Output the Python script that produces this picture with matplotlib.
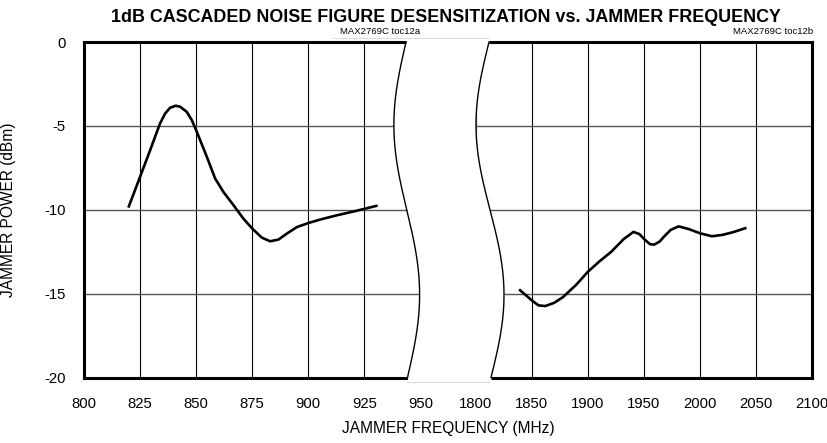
import numpy as np
import matplotlib
matplotlib.use("Agg")
import matplotlib.pyplot as plt

plt.rcParams['font.family'] = ['Liberation Sans', 'DejaVu Sans']
plt.rcParams['axes.unicode_minus'] = False

# left band (800-950 MHz)
freq_lo = [820, 825, 829.5, 833.9, 836.2, 838.4, 840.9, 842.9, 845.8, 848.1, 850.3, 854.8,
           858.5, 862.2, 866.7, 871.1, 875.1, 879.3, 883, 886.7, 890.5, 895, 900.1, 906,
           912.8, 921, 930.4]
power_lo = [-9.8, -8.04, -6.45, -4.86, -4.26, -3.92, -3.8, -3.86, -4.16, -4.66, -5.35, -6.85,
            -8.14, -8.94, -9.73, -10.53, -11.13, -11.66, -11.88, -11.78, -11.42, -11.03, -10.79, -10.56,
            -10.33, -10.08, -9.77]

# right band (1800-2100 MHz)
freq_hi = [1839.6, 1850, 1856, 1862, 1870, 1878, 1890, 1900, 1910, 1921, 1932, 1940.7,
           1946, 1951, 1955.5, 1959.2, 1964, 1968, 1974, 1981, 1990, 2000, 2010.7, 2020, 2030, 2040.4]
power_hi = [-14.8, -15.4, -15.7, -15.74, -15.55, -15.2, -14.45, -13.7, -13.1, -12.5, -11.75, -11.32,
            -11.45, -11.8, -12.05, -12.08, -11.9, -11.6, -11.2, -10.99, -11.15, -11.4, -11.58, -11.5, -11.33, -11.1]

ticks_lo = [800, 825, 850, 875, 900, 925, 950]
ticks_hi = [1800, 1850, 1900, 1950, 2000, 2050, 2100]
yticks = [-20, -15, -10, -5, 0]

W, H = 827, 443
fig = plt.figure(figsize=(W / 100, H / 100), dpi=100)

top_px, bot_px = 42, 377.5
ax1 = fig.add_axes([84 / W, (H - bot_px) / H, (420.3 - 84) / W, (bot_px - top_px) / H])
ax2 = fig.add_axes([475.7 / W, (H - bot_px) / H, (812 - 475.7) / W, (bot_px - top_px) / H])

for ax, ticks in [(ax1, ticks_lo), (ax2, ticks_hi)]:
    ax.set_xlim(ticks[0], ticks[-1])
    ax.set_ylim(-20, 0)
    ax.set_xticks(ticks)
    ax.set_yticks(yticks)
    ax.tick_params(length=0, labelsize=10.7)
    ax.tick_params(axis='x', pad=14)
    ax.tick_params(axis='y', pad=13)
    ax.xaxis.grid(True, color='black', lw=0.8)
    ax.yaxis.grid(True, color='#555555', lw=1.0)
    ax.set_axisbelow(True)
    for s in ax.spines.values():
        s.set_linewidth(2.2)

ax1.spines['right'].set_visible(False)
ax2.spines['left'].set_visible(False)
ax2.tick_params(labelleft=False)

ax1.plot(freq_lo, power_lo, color='black', lw=1.9, solid_joinstyle='round')
ax2.plot(freq_hi, power_hi, color='black', lw=1.9, solid_joinstyle='round')

# broken-axis gap with wavy edges
ov = fig.add_axes([0, 0, 1, 1], zorder=10)
ov.set_xlim(0, W)
ov.set_ylim(H, 0)
ov.axis('off')
t = np.linspace(0, 1, 200)
yy = top_px + t * (bot_px - top_px)
xl = 406 - 12.5 * np.sin(2 * np.pi * t) + t * 1.5
xr = 489 - 13.5 * np.sin(2 * np.pi * t) + t * 2
ov.fill_betweenx(np.r_[38, yy, 381], np.r_[xl[0], xl, xl[-1]], np.r_[xr[0], xr, xr[-1]],
                 color='white', lw=0)
ov.plot(xl, yy, color='black', lw=1.0)
ov.plot(xr, yy, color='black', lw=1.0)
ov.plot([333, 488], [37.5, 37.5], color='#dddddd', lw=0.8)
ov.plot([407, 490], [382, 382], color='#dddddd', lw=0.8)

fig.text(446 / W, 1 - 17 / H, '1dB CASCADED NOISE FIGURE DESENSITIZATION vs. JAMMER FREQUENCY',
         ha='center', va='center', fontsize=12.9, fontweight='bold')
fig.text(448 / W, 1 - 428 / H, 'JAMMER FREQUENCY (MHz)', ha='center', va='center', fontsize=11.2)
fig.text(9 / W, 1 - 210 / H, 'JAMMER POWER (dBm)', ha='center', va='center', fontsize=11.2, rotation=90)
fig.text(420 / W, 1 - 36 / H, 'MAX2769C toc12a', ha='right', va='bottom', fontsize=6.8)
fig.text(813 / W, 1 - 36 / H, 'MAX2769C toc12b', ha='right', va='bottom', fontsize=6.8)

fig.savefig('out.png', dpi=100)
